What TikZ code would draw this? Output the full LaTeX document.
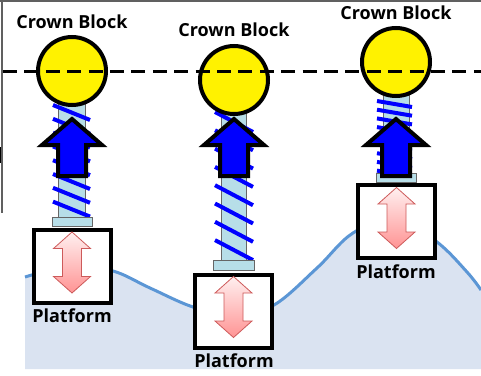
\documentclass[tikz,border=0pt]{standalone}
\usepackage{fontspec}
\setmainfont{Open Sans}
\definecolor{groundfill}{RGB}{218,227,241}
\definecolor{groundline}{RGB}{91,150,213}
\definecolor{rodblue}{RGB}{183,222,232}
\definecolor{pinkedge}{RGB}{205,90,90}
\begin{document}
\begin{tikzpicture}[x=1pt,y=-1pt,
  pulley/.style={circle,draw=black,line width=4pt,fill=yellow,minimum size=68pt,inner sep=0pt},
  platformbox/.style={rectangle,draw=black,line width=4pt,fill=white,minimum width=77pt,minimum height=73pt,inner sep=0pt},
  nametext/.style={font=\fontsize{18}{20}\selectfont\bfseries,inner sep=0pt,anchor=base},
  rodbody/.style={draw=gray!80!black,line width=1pt,fill=rodblue},
  coil/.style={draw={rgb,255:red,0;green,0;blue,255},line width=4pt},
  liftarrow/.style={draw=black,line width=4pt,line join=miter,fill={rgb,255:red,0;green,0;blue,255}},
  motionarrow/.style={draw=pinkedge,line width=0.8pt,top color=red!6,bottom color=red!42},
  refline/.style={draw=black,line width=3.5pt,dash pattern=on 14pt off 7.4pt},
  framegray/.style={draw=gray!75!black,line width=1.6pt},
  uparrow/.pic={\path[liftarrow] (0,0) -- (30,26) -- (14,26) -- (14,57) -- (-14,57) -- (-14,26) -- (-30,26) -- cycle;},
  updown/.pic={\path[motionarrow] (0,-30.5) -- (18.5,-14) -- (9.5,-14) -- (9.5,14) -- (18.5,14) -- (0,30.5) -- (-18.5,14) -- (-9.5,14) -- (-9.5,-14) -- (-18.5,-14) -- cycle;}
]
\useasboundingbox (0,0) rectangle (481,375);

% sea surface and water body
\fill[groundfill] (25,369) -- plot[smooth,tension=0.6] coordinates {(25,277) (72,266) (113,271) (150,288) (193,307) (234,316) (274,305) (317,268) (353,233) (396,218) (437,242) (467,272) (481,290)} -- (481,369) -- cycle;
\draw[groundline,line width=3pt] plot[smooth,tension=0.6] coordinates {(25,277) (72,266) (113,271) (150,288) (193,307) (234,316) (274,305) (317,268) (353,233) (396,218) (437,242) (467,272) (481,290)};

% slide frame
\draw[framegray] (0,1) -- (481,1);
\draw[framegray] (2,0) -- (2,213);
\draw[black,line width=1.5pt] (0.6,147) -- (0.6,163);

% compensator rods
\draw[rodbody] (58,100) rectangle (85,217);
\draw[rodbody] (221,110) rectangle (246,260);
\draw[rodbody] (383,95) rectangle (409,173);

% springs
\foreach \k in {0,...,7}
  \draw[coil] (53,{105+13.8*\k}) -- (90,{120+13.8*\k});
\foreach \k in {0,...,7}
  \draw[coil] (215,{112+18.3*\k}) -- (253,{132+18.3*\k});
\foreach \k in {0,...,8}
  \draw[coil] (377,{101+8.7*\k}) -- (412,{107+8.7*\k});

% base plates
\draw[rodbody] (52,217) rectangle (92,226);
\draw[rodbody] (213,260) rectangle (254,270);
\draw[rodbody] (376,173) rectangle (416,182);

% crown blocks
\node[pulley] (cb1) at (72,71) {};
\node[pulley] (cb2) at (234,80) {};
\node[pulley] (cb3) at (396,62) {};

% fixed reference level
\coordinate (refL) at (3,71.5);
\coordinate (refR) at (481,71.5);
\draw[refline] (refL) -- (refR);

% lifting force
\pic at (72,119) {uparrow};
\pic at (234,119) {uparrow};
\pic at (396,119) {uparrow};

% platforms
\node[platformbox] (pf1) at (72,266.5) {};
\node[platformbox] (pf2) at (233.5,311) {};
\node[platformbox] (pf3) at (396.5,221.5) {};
\pic at (72,262.5) {updown};
\pic at (233.5,307) {updown};
\pic at (396.5,218) {updown};

% labels
\node[nametext] (t1) at (72,28.3) {Crown Block};
\node[nametext] (t2) at (234,36.7) {Crown Block};
\node[nametext] (t3) at (396,19) {Crown Block};
\node[nametext] (p1) at (72,322.7) {Platform};
\node[nametext] (p2) at (234,367.3) {Platform};
\node[nametext] (p3) at (396,278.3) {Platform};
\end{tikzpicture}
\end{document}
